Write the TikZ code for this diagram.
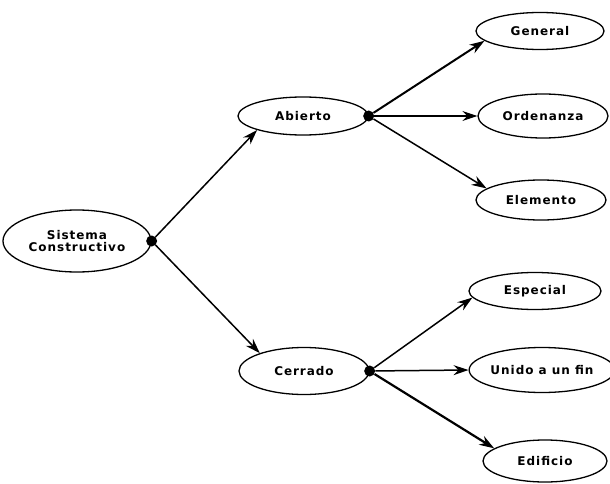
\documentclass[tikz,border=0pt]{standalone}
\usepackage{fontspec}
\setmainfont[LetterSpace=8]{DejaVu Sans}
\usetikzlibrary{shapes.geometric,arrows.meta}

\tikzstyle{elip} = [
        draw,
        fill=white,
        ellipse,
        line width=1.3pt,
        inner sep=0pt,
        font=\bfseries\fontsize{12}{14}\selectfont,
        minimum height=40pt,
        minimum width=130pt
    ]
\tikzstyle{dot} = [circle, fill=black, inner sep=0pt, minimum size=11pt]
\tikzstyle{arr} = [-{Stealth[length=15pt,width=10pt]}, line width=1.5pt]

\begin{document}
\begin{tikzpicture}[x=1pt, y=-1pt]
        \useasboundingbox (0,0) rectangle (610,484);
        \node(sist) [elip, minimum width=148pt, minimum height=62pt, align=center]
            at (77,241) {Sistema\\[-2pt]Constructivo};
        \node(abie) [elip, minimum height=38pt] at (303,116) {Abierto};
        \node(cerr) [elip, minimum height=47pt] at (304,371) {Cerrado};
        \node(gene) [elip, minimum width=128pt, minimum height=37pt] at (540,31) {General};
        \node(orde) [elip, minimum height=44pt] at (543,116) {Ordenanza};
        \node(elem) [elip] at (541,200) {Elemento};
        \node(espe) [elip, minimum width=132pt, minimum height=37pt] at (535,291) {Especial};
        \node(unid) [elip, minimum height=45pt] at (542,370) {Unido a un fin};
        \node(edif) [elip, minimum width=124pt, minimum height=42pt] at (545,461) {Edificio};
        \node(dsis) [dot] at (sist.east) {};
        \node(dabi) [dot] at (abie.east) {};
        \node(dcer) [dot] at (cerr.east) {};
        \draw[arr] (dsis) -- (abie.197);
        \draw[arr] (dsis) -- (cerr.158);
        \draw[arr, line width=2pt] (dabi) -- (gene.190);
        \draw[arr, line width=1.1pt] (dabi) -- (orde.west);
        \draw[arr] (dabi) -- (elem.168);
        \draw[arr] (dcer) -- (espe.186);
        \draw[arr] (dcer) -- (unid.west);
        \draw[arr, line width=2.2pt] (dcer) -- (edif.166);
    \end{tikzpicture}
\end{document}
